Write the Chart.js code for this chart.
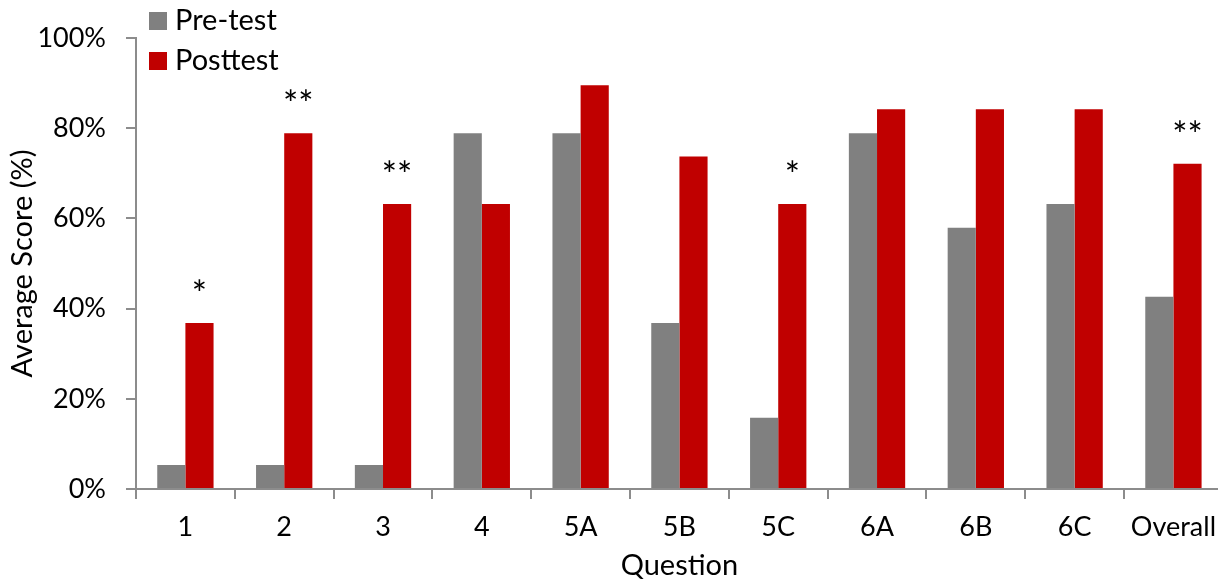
<!DOCTYPE html>
<html>
<head>
  <meta charset="utf-8">
  <title>Average Score</title>
  <script src="https://cdn.jsdelivr.net/npm/chart.js@4.4.0/dist/chart.umd.min.js"></script>
  <style>
    html, body { margin: 0; padding: 0; overflow: hidden; background: #fff; }
    #wrap { width: 1228px; height: 583px; }
  </style>
</head>
<body>
  <div id="wrap"><canvas id="chart"></canvas></div>
  <script>
    // data
    var questions = ['1', '2', '3', '4', '5A', '5B', '5C', '6A', '6B', '6C', 'Overall'];
    var preTest = [5.3, 5.3, 5.3, 78.9, 78.9, 36.8, 15.8, 78.9, 57.9, 63.2, 42.6];
    var postTest = [36.8, 78.9, 63.2, 63.2, 89.5, 73.7, 63.2, 84.2, 84.2, 84.2, 72.1];
    var stars = ['*', '**', '**', '', '', '', '*', '', '', '', '**'];

    var FONT = 'Lato, "Open Sans", sans-serif';
    var axisGray = '#8c8c8c';

    // asterisks above the posttest bars
    var starPlugin = {
      id: 'stars',
      afterDatasetsDraw: function(chart) {
        var ctx = chart.ctx;
        var meta = chart.getDatasetMeta(1);
        ctx.save();
        ctx.fillStyle = '#000';
        ctx.font = '36px ' + FONT;
        ctx.textAlign = 'center';
        ctx.textBaseline = 'alphabetic';
        meta.data.forEach(function(bar, i) {
          if (stars[i]) ctx.fillText(stars[i], bar.x, bar.y - 16);
        });
        ctx.restore();
      }
    };

    // stacked legend in the top-left corner
    var legendPlugin = {
      id: 'stackLegend',
      afterDraw: function(chart) {
        var ctx = chart.ctx;
        ctx.save();
        ctx.font = '29px ' + FONT;
        ctx.textBaseline = 'middle';
        ctx.textAlign = 'left';
        chart.data.datasets.forEach(function(ds, i) {
          var y = 21 + i * 40;
          ctx.fillStyle = ds.backgroundColor;
          ctx.fillRect(149, y - 9, 18, 18);
          ctx.fillStyle = '#000';
          ctx.fillText(ds.label, 175, y);
        });
        ctx.restore();
      }
    };

    new Chart(document.getElementById('chart'), {
      type: 'bar',
      data: {
        labels: questions,
        datasets: [
          { label: 'Pre-test', data: preTest, backgroundColor: '#808080' },
          { label: 'Posttest', data: postTest, backgroundColor: '#c00000' }
        ]
      },
      options: {
        responsive: true,
        maintainAspectRatio: false,
        animation: false,
        datasets: { bar: { barPercentage: 1, categoryPercentage: 0.57 } },
        layout: { padding: { top: 38, right: 0, left: 0, bottom: 0 } },
        plugins: { legend: { display: false }, tooltip: { enabled: false } },
        scales: {
          x: {
            grid: { display: true, drawOnChartArea: false, drawTicks: true, tickLength: 10, color: axisGray, lineWidth: 2 },
            border: { display: true, color: axisGray, width: 2 },
            ticks: { color: '#000', font: { family: FONT, size: 27 }, padding: 12, maxRotation: 0 },
            title: { display: true, text: 'Question', color: '#000', font: { family: FONT, size: 29 }, padding: { top: 0, bottom: 0 } },
            afterFit: function(scale) { scale.height = 94; }
          },
          y: {
            min: 0, max: 100,
            grid: { display: true, drawOnChartArea: false, drawTicks: true, tickLength: 10, color: axisGray, lineWidth: 2 },
            border: { display: true, color: axisGray, width: 2 },
            ticks: { stepSize: 20, color: '#000', font: { family: FONT, size: 27 }, padding: 20,
                     callback: function(v) { return v + '%'; } },
            title: { display: true, text: 'Average Score (%)', color: '#000', font: { family: FONT, size: 29 }, padding: { top: 5, bottom: 0 } },
            afterFit: function(scale) { scale.width = 136; }
          }
        }
      },
      plugins: [starPlugin, legendPlugin]
    });
  </script>
</body>
</html>
